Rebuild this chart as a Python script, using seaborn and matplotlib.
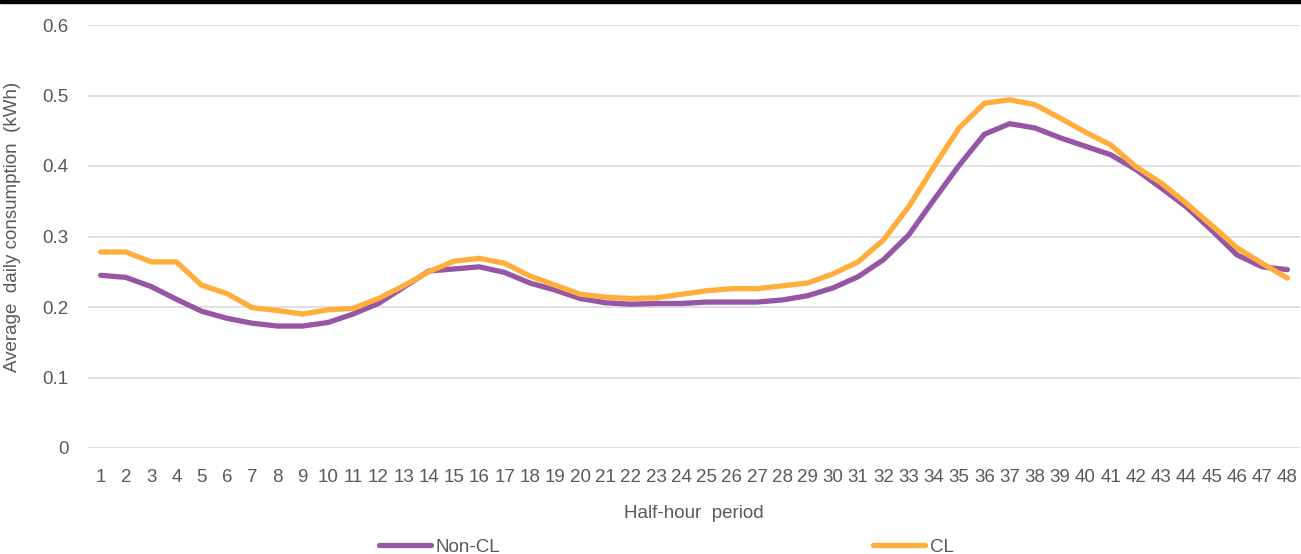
import numpy as np
import pandas as pd
import matplotlib.pyplot as plt
import seaborn as sns
from matplotlib.patches import Rectangle
from matplotlib.lines import Line2D

# half-hour periods and average consumption
periods = list(range(1, 49))
non_cl = [0.245, 0.242, 0.229, 0.211, 0.194, 0.184, 0.177, 0.173, 0.173, 0.178,
          0.190, 0.205, 0.228, 0.251, 0.254, 0.257, 0.249, 0.234, 0.224, 0.212,
          0.206, 0.204, 0.205, 0.205, 0.207, 0.207, 0.207, 0.210, 0.216, 0.227,
          0.243, 0.267, 0.302, 0.352, 0.401, 0.445, 0.460, 0.454, 0.440, 0.428,
          0.416, 0.395, 0.369, 0.342, 0.309, 0.274, 0.257, 0.253]
cl = [0.278, 0.278, 0.264, 0.264, 0.231, 0.219, 0.199, 0.195, 0.190, 0.196,
      0.198, 0.212, 0.230, 0.250, 0.265, 0.269, 0.262, 0.244, 0.231, 0.218,
      0.214, 0.212, 0.213, 0.218, 0.223, 0.226, 0.226, 0.230, 0.234, 0.247,
      0.264, 0.295, 0.342, 0.399, 0.454, 0.489, 0.494, 0.487, 0.468, 0.448,
      0.430, 0.399, 0.376, 0.347, 0.316, 0.284, 0.262, 0.241]
series = ["Non-CL", "CL"]
colors = {"Non-CL": "#9755A6", "CL": "#FFAD3B"}
yticks = [0, 0.1, 0.2, 0.3, 0.4, 0.5, 0.6]

df = pd.DataFrame({
    "period": periods * 2,
    "kwh": non_cl + cl,
    "group": ["Non-CL"] * 48 + ["CL"] * 48,
})

sns.set_style("white")
plt.rcParams['font.family'] = ['Liberation Sans', 'DejaVu Sans']
grey = "#595959"

fig = plt.figure(figsize=(13.01, 5.54), dpi=100)
ax = fig.add_axes([88 / 1301, 106 / 554, 1212 / 1301, 423 / 554])

sns.lineplot(data=df, x="period", y="kwh", hue="group", hue_order=series,
             palette=colors, linewidth=3.8, legend=False, ax=ax)

ax.set_xlim(0.5, 48.5)
ax.set_ylim(0, 0.6)
ax.set_yticks(yticks)
ax.set_yticklabels(["0", "0.1", "0.2", "0.3", "0.4", "0.5", "0.6"])
ax.set_xticks(periods)
ax.set_xticklabels([str(p) for p in periods],
                   family=['Liberation Sans Narrow', 'Liberation Sans'])
ax.grid(axis="y", color="#D9D9D9", linewidth=1.2)
ax.set_axisbelow(True)
for s in ax.spines.values():
    s.set_visible(False)
ax.tick_params(axis="both", length=0, labelsize=13.5, colors=grey)
ax.tick_params(axis="x", pad=15)
ax.tick_params(axis="y", pad=14)

ax.set_xlabel("Half-hour  period", fontsize=13.5, color=grey, labelpad=14)
ax.set_ylabel("Average  daily consumption  (kWh)", fontsize=13.5, color=grey)
ax.yaxis.set_label_coords(-0.0555, 0.522)

handles = [Line2D([0], [0], color=colors[s], linewidth=3.8, solid_capstyle="round")
           for s in series]
fig.legend(handles, series, loc="center", bbox_to_anchor=(0.512, 0.012), ncol=2,
           frameon=False, fontsize=13.5, labelcolor=grey, handlelength=2.8,
           handletextpad=0.25, columnspacing=19.85)

# black strip across the top edge
fig.add_artist(Rectangle((0, 1 - 3 / 554), 1, 3 / 554, transform=fig.transFigure,
                         color="black", clip_on=False))

fig.savefig("out.png", dpi=100)
